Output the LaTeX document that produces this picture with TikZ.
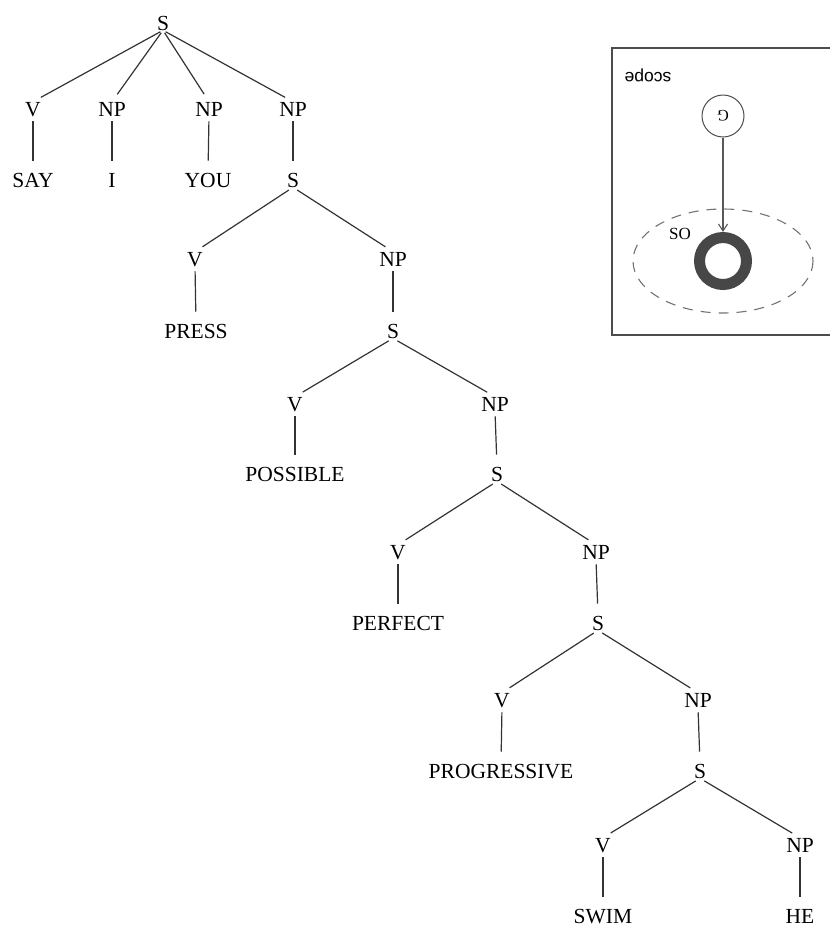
\documentclass[tikz,border=0pt]{standalone}
\usepackage{fontspec}
\setmainfont{Liberation Serif}
\setsansfont{Liberation Sans}
\usetikzlibrary{arrows.meta}
\tikzset{
  lab/.style={font=\fontsize{21.5}{21.5}\selectfont, inner sep=0pt, text height=14.2pt, text depth=0pt, anchor=center},
  branch/.style={draw=black!80, line width=1.2pt, shorten <=5pt, shorten >=9pt},
  stem/.style={draw=black!80, line width=1.2pt, shorten <=5pt, shorten >=12pt},
  insetline/.style={draw=black!70, line width=1.2pt},
}
\begin{document}
\begin{tikzpicture}[x=1pt,y=-1pt]
\useasboundingbox (0,0) rectangle (830,927);
% tree nodes
\node[lab] (s0) at (163,23) {S};
\node[lab] (v1) at (33,109) {V};
\node[lab] (np1a) at (112,109) {NP};
\node[lab] (np1b) at (209,109) {NP};
\node[lab] (np1c) at (293,109) {NP};
\node[lab] (say) at (33,180) {SAY};
\node[lab] (i) at (112,180) {I};
\node[lab] (you) at (208,180) {YOU};
\node[lab] (s1) at (293,180) {S};
\node[lab] (v2) at (195,259) {V};
\node[lab] (np2) at (393,259) {NP};
\node[lab] (press) at (196,331) {PRESS};
\node[lab] (s2) at (393,331) {S};
\node[lab] (v3) at (295,404) {V};
\node[lab] (np3) at (495,404) {NP};
\node[lab] (possible) at (295,474) {POSSIBLE};
\node[lab] (s3) at (497,474) {S};
\node[lab] (v4) at (398,552) {V};
\node[lab] (np4) at (596,552) {NP};
\node[lab] (perfect) at (398,623) {PERFECT};
\node[lab] (s4) at (598,623) {S};
\node[lab] (v5) at (502,700) {V};
\node[lab] (np5) at (698,700) {NP};
\node[lab] (progressive) at (501,771) {PROGRESSIVE};
\node[lab] (s5) at (700,771) {S};
\node[lab] (v6) at (603,845) {V};
\node[lab] (np6) at (800,845) {NP};
\node[lab] (swim) at (603,916) {SWIM};
\node[lab] (he) at (800,916) {HE};
% edges
\foreach \c in {v1,np1a,np1b,np1c}
  \draw[branch, shorten <=3pt] (s0.south) -- (\c.north);
\draw[stem] (v1.south) -- (say.north);
\draw[stem] (np1a.south) -- (i.north);
\draw[stem] (np1b.south) -- (you.north);
\draw[stem] (np1c.south) -- (s1.north);
\draw[branch] (s1.south) -- (v2.north);
\draw[branch] (s1.south) -- (np2.north);
\draw[stem] (v2.south) -- (press.north);
\draw[stem] (np2.south) -- (s2.north);
\draw[branch] (s2.south) -- (v3.north);
\draw[branch] (s2.south) -- (np3.north);
\draw[stem] (v3.south) -- (possible.north);
\draw[stem] (np3.south) -- (s3.north);
\draw[branch] (s3.south) -- (v4.north);
\draw[branch] (s3.south) -- (np4.north);
\draw[stem] (v4.south) -- (perfect.north);
\draw[stem] (np4.south) -- (s4.north);
\draw[branch] (s4.south) -- (v5.north);
\draw[branch] (s4.south) -- (np5.north);
\draw[stem] (v5.south) -- (progressive.north);
\draw[stem] (np5.south) -- (s5.north);
\draw[branch] (s5.south) -- (v6.north);
\draw[branch] (s5.south) -- (np6.north);
\draw[stem] (v6.south) -- (swim.north);
\draw[stem] (np6.south) -- (he.north);
% inset
\draw[insetline] (612,48) rectangle (850,335);
\node[font=\sffamily\fontsize{17.5}{17.5}\selectfont, rotate=180, inner sep=0pt] (scope) at (648,75) {scope};
\node[draw=black!70, line width=1pt, circle, minimum size=42pt, inner sep=0pt, font=\fontsize{16}{16}\selectfont] (g) at (723,116) {\rotatebox{180}{G}};
\draw[black!55, line width=1.1pt, dash pattern=on 10pt off 8pt] (723,261) ellipse [x radius=90, y radius=52];
\node[font=\fontsize{17}{17}\selectfont, inner sep=0pt] (so) at (680,234) {SO};
\node[circle, draw=black!72, line width=11pt, minimum size=47pt, inner sep=0pt] (ring) at (723,261) {};
\draw[black!65, line width=1.1pt, -{Straight Barb[length=7pt,width=9pt]}] (g) -- (ring.north);
\end{tikzpicture}
\end{document}
